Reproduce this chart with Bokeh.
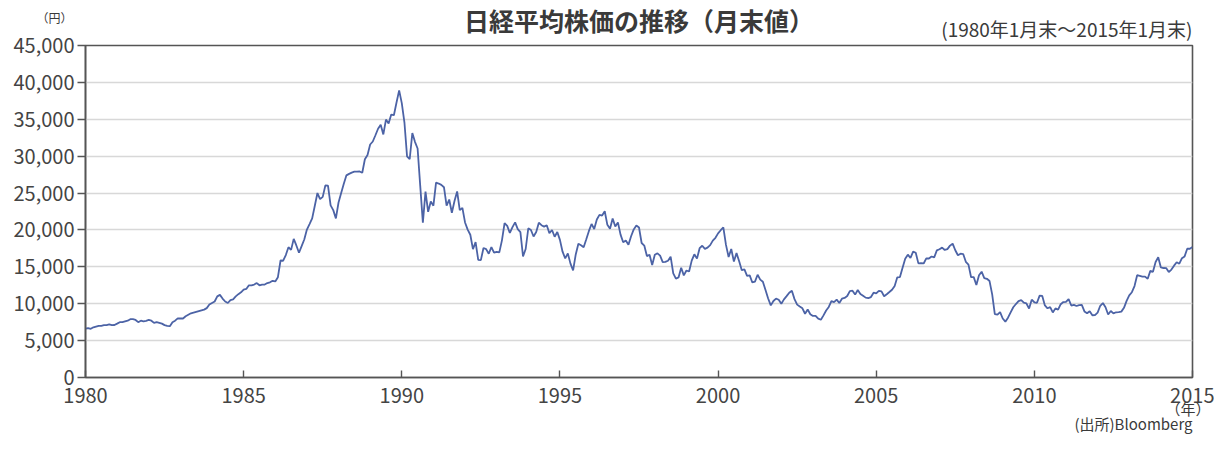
from bokeh.plotting import figure
from bokeh.models import ColumnDataSource, NumeralTickFormatter, FixedTicker, Range1d, Title
from bokeh.embed import file_html
from bokeh.resources import INLINE

# Month-end Nikkei 225 values (yen), Jan..Dec per year
y1980 = [6610, 6700, 6600, 6800, 6900, 7000, 7000, 7100, 7100, 7200, 7100, 7116]
y1981 = [7300, 7500, 7500, 7600, 7700, 7900, 7900, 7800, 7500, 7700, 7600, 7682]
y1982 = [7800, 7700, 7400, 7500, 7400, 7300, 7100, 7000, 6950, 7500, 7700, 8016]
y1983 = [8000, 8000, 8300, 8500, 8700, 8800, 8900, 9000, 9100, 9200, 9400, 9893]
y1984 = [10100, 10300, 11000, 11200, 10700, 10300, 10100, 10500, 10600, 11000, 11300, 11542]
y1985 = [11900, 12000, 12500, 12500, 12600, 12800, 12500, 12600, 12600, 12800, 12900, 13113]
y1986 = [13024, 13600, 15859, 15825, 16600, 17654, 17300, 18787, 17900, 16910, 17800, 18701]
y1987 = [20048, 20800, 21566, 23274, 25000, 24176, 24488, 26029, 26011, 23329, 22687, 21564]
y1988 = [23719, 25000, 26260, 27400, 27600, 27769, 27900, 27900, 27923, 27749, 29579, 30159]
y1989 = [31581, 31985, 32838, 33713, 34266, 32948, 34954, 34431, 35636, 35549, 37268, 38916]
y1990 = [37188, 34591, 29980, 29584, 33131, 31940, 31036, 25978, 20984, 25194, 22455, 23849]
y1991 = [23293, 26409, 26292, 26111, 25790, 23291, 24121, 22336, 23916, 25222, 22687, 22984]
y1992 = [21015, 20050, 19346, 17391, 18348, 15952, 15910, 17555, 17399, 16767, 17684, 16925]
y1993 = [17023, 16953, 18591, 20919, 20552, 19590, 20380, 21027, 20106, 19703, 16408, 17417]
y1994 = [20229, 19997, 19112, 19726, 20974, 20644, 20448, 20629, 19564, 19990, 19076, 19723]
y1995 = [18650, 17053, 16140, 16807, 15437, 14517, 16678, 18117, 17913, 17655, 18744, 19868]
y1996 = [20813, 20125, 21407, 22041, 21956, 22531, 20693, 20167, 21556, 20466, 21020, 19361]
y1997 = [18330, 18557, 18003, 19151, 20069, 20605, 20331, 18229, 17888, 16459, 16636, 15259]
y1998 = [16628, 16831, 16527, 15641, 15671, 15830, 16379, 14108, 13406, 13564, 14883, 13842]
y1999 = [14499, 14368, 15837, 16701, 16112, 17530, 17862, 17437, 17605, 17942, 18558, 18934]
y2000 = [19540, 19960, 20337, 17974, 16332, 17411, 15727, 16861, 15747, 14539, 14649, 13786]
y2001 = [13843, 12884, 12999, 13934, 13262, 12969, 11861, 10714, 9775, 10366, 10697, 10543]
y2002 = [9998, 10588, 11025, 11493, 11764, 10622, 9878, 9619, 9383, 8640, 9216, 8579]
y2003 = [8340, 8363, 7973, 7831, 8425, 9083, 9563, 10344, 10219, 10560, 10101, 10677]
y2004 = [10784, 11042, 11715, 11762, 11237, 11859, 11326, 11082, 10824, 10771, 10899, 11489]
y2005 = [11388, 11741, 11669, 11009, 11277, 11584, 11900, 12414, 13574, 13607, 14872, 16111]
y2006 = [16650, 16205, 17060, 16907, 15467, 15505, 15457, 16141, 16128, 16399, 16274, 17226]
y2007 = [17383, 17604, 17288, 17400, 17876, 18138, 17248, 16569, 16786, 16737, 15681, 15308]
y2008 = [13592, 13603, 12526, 13850, 14338, 13481, 13377, 13073, 11260, 8577, 8512, 8860]
y2009 = [7994, 7568, 8110, 8828, 9523, 9958, 10357, 10493, 10133, 10035, 9346, 10546]
y2010 = [10198, 10126, 11090, 11057, 9769, 9383, 9537, 8824, 9369, 9202, 9937, 10229]
y2011 = [10238, 10624, 9755, 9850, 9694, 9816, 9833, 8955, 8700, 8988, 8435, 8455]
y2012 = [8803, 9723, 10084, 9521, 8543, 9007, 8695, 8840, 8870, 8928, 9446, 10395]
y2013 = [11139, 11559, 12398, 13861, 13775, 13677, 13668, 13389, 14456, 14328, 15662, 16291]
y2014 = [14915, 14841, 14828, 14304, 14632, 15162, 15621, 15425, 16174, 16414, 17460, 17451]
y2015 = [17674]

years_data = [y1980, y1981, y1982, y1983, y1984, y1985, y1986, y1987, y1988, y1989,
              y1990, y1991, y1992, y1993, y1994, y1995, y1996, y1997, y1998, y1999,
              y2000, y2001, y2002, y2003, y2004, y2005, y2006, y2007, y2008, y2009,
              y2010, y2011, y2012, y2013, y2014, y2015]

x_ticks = [1980, 1985, 1990, 1995, 2000, 2005, 2010, 2015]
y_ticks = [0, 5000, 10000, 15000, 20000, 25000, 30000, 35000, 40000, 45000]

title_text = "日経平均株価の推移（月末値）"
period_text = "(1980年1月末～2015年1月末)"
yunit_text = "（円）"
xunit_text = "（年）"
source_text = "(出所)Bloomberg"

values = []
for yr in years_data:
    values.extend(yr)
xs = [1980 + i / 12 for i in range(len(values))]

src = ColumnDataSource(dict(x=xs, y=values))

FONT = "Noto Sans CJK JP"
TXT = "#3a3a3a"

p = figure(frame_width=1107, frame_height=332,
           min_border_left=85, min_border_top=45, min_border_right=22, min_border_bottom=60,
           x_range=Range1d(1980, 2015), y_range=Range1d(0, 45000),
           output_backend="svg", toolbar_location=None)

p.line("x", "y", source=src, line_color="#4c63a6", line_width=1.8)

p.outline_line_color = "#555555"
p.outline_line_width = 1.6
p.background_fill_color = "white"
p.border_fill_color = "white"

p.xgrid.visible = False
p.ygrid.grid_line_color = "#d8d8d8"
p.ygrid.grid_line_width = 1.5

p.xaxis.ticker = FixedTicker(ticks=x_ticks)
p.yaxis.ticker = FixedTicker(ticks=y_ticks)
p.yaxis.formatter = NumeralTickFormatter(format="0,0")

for ax in (p.xaxis[0], p.yaxis[0]):
    ax.axis_line_color = "#555555"
    ax.axis_line_width = 1.6
    ax.major_tick_line_color = "#555555"
    ax.major_tick_line_width = 1.4
    ax.minor_tick_line_color = None
    ax.major_label_text_font = FONT
    ax.major_label_text_font_size = "20px"
    ax.major_label_text_color = "#444444"

p.xaxis.major_tick_in = 7
p.xaxis.major_tick_out = 0
p.xaxis.major_label_standoff = 10
p.yaxis.major_tick_in = 0
p.yaxis.major_tick_out = 8
p.yaxis.major_label_standoff = 3

# texts above the frame (first added = nearest the frame)
p.add_layout(Title(text=period_text, align="right", text_font=FONT, text_font_size="19px",
                   text_font_style="normal", text_color=TXT, standoff=8), "above")
p.add_layout(Title(text=title_text, align="center", text_font=FONT, text_font_size="25px",
                   text_font_style="bold", text_color=TXT, standoff=-59), "above")
p.add_layout(Title(text=yunit_text, align="left", offset=-49, text_font=FONT, text_font_size="12px",
                   text_font_style="normal", text_color=TXT, standoff=-35), "above")

# texts below the x axis
p.add_layout(Title(text=xunit_text, align="right", offset=-18, text_font=FONT, text_font_size="15px",
                   text_font_style="normal", text_color=TXT, vertical_align="top", standoff=-15), "below")
p.add_layout(Title(text=source_text, align="right", text_font=FONT, text_font_size="15px",
                   text_font_style="normal", text_color=TXT, standoff=-6), "below")

open("out.html", "w").write(file_html(p, INLINE))
